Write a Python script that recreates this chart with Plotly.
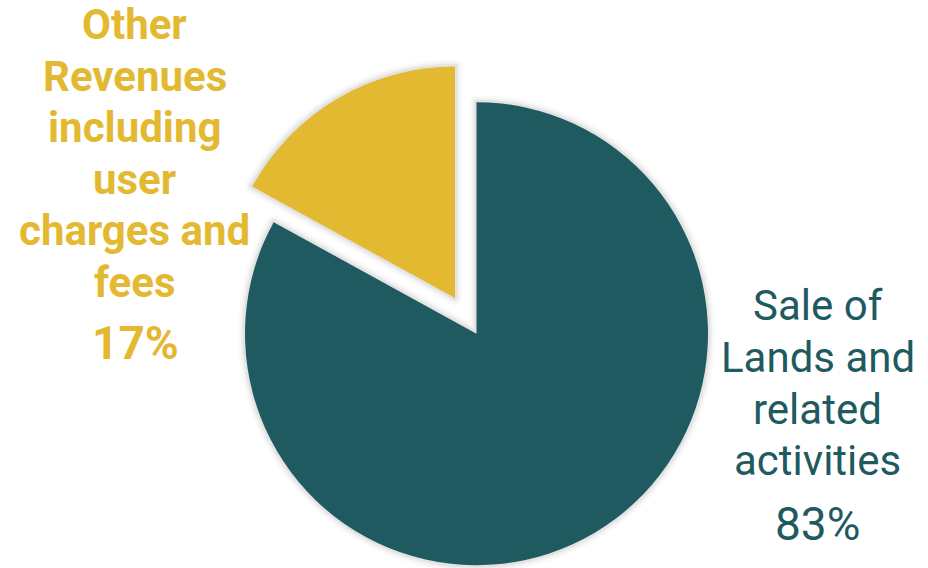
import plotly.graph_objects as go

# ---- data ----
categories = ["Sale of Lands and related activities",
              "Other Revenues including user charges and fees"]
label_lines = [["Sale of", "Lands and", "related", "activities"],
               ["Other", "Revenues", "including", "user", "charges and", "fees"]]
values = [83, 17]
colors = ["#1F5A60", "#E4B932"]

W, H = 928, 568
R = 231.5
centers = [(476.5, 333.7), (455.0, 298.0)]  # main pie, exploded slice (pixels)


def dom(cx, cy):
    return dict(x=[(cx - R) / W, (cx + R) / W],
                y=[(H - cy - R) / H, (H - cy + R) / H])


fig = go.Figure()

# soft shadow rings
for w, a in [(14, 0.025), (9, 0.035), (5, 0.05)]:
    for i, (cx, cy) in enumerate(centers):
        lc = [f"rgba(0,0,0,{a})" if j == i else "rgba(0,0,0,0)" for j in range(len(values))]
        fig.add_trace(go.Pie(
            labels=categories, values=values, sort=False, direction="clockwise",
            rotation=0, textinfo="none", hoverinfo="skip", showlegend=False,
            marker=dict(colors=["rgba(0,0,0,0)"] * len(values),
                        line=dict(color=lc, width=w)),
            domain=dom(cx, cy)))

# main slices (each trace shows one slice)
for i, (cx, cy) in enumerate(centers):
    fc = [colors[j] if j == i else "rgba(0,0,0,0)" for j in range(len(values))]
    fig.add_trace(go.Pie(
        labels=categories, values=values, sort=False, direction="clockwise",
        rotation=0, textinfo="none", showlegend=False,
        marker=dict(colors=fc, line=dict(width=0)),
        domain=dom(cx, cy)))

# labels: per-line placement (baselines in pixels from top)
label_x = [817.5, 134.5]
first_base = [320.0, 39.0]
line_gap = [51.7, 51.5]
pct_x = [817.0, 135.0]
pct_base = [540.0, 359.0]
weights = ["normal", "bold"]
LS, PS = 42, 46
for i in range(len(values)):
    for k, line in enumerate(label_lines[i]):
        base = first_base[i] + k * line_gap[i]
        cy = base - 0.34 * LS
        fig.add_annotation(x=label_x[i] / W, y=1 - cy / H, xref="paper", yref="paper",
                           text=line, showarrow=False, xanchor="center", yanchor="middle",
                           font=dict(family="Roboto", size=LS, color=colors[i], weight=weights[i]))
    cy = pct_base[i] - 0.34 * PS
    fig.add_annotation(x=pct_x[i] / W, y=1 - cy / H, xref="paper", yref="paper",
                       text=f"{values[i]}%", showarrow=False,
                       xanchor="center", yanchor="middle",
                       font=dict(family="Roboto", size=PS, color=colors[i], weight=weights[i]))

fig.update_layout(width=W, height=H, margin=dict(l=0, r=0, t=0, b=0),
                  paper_bgcolor="white", plot_bgcolor="white", showlegend=False)

fig.write_html("out.html")
